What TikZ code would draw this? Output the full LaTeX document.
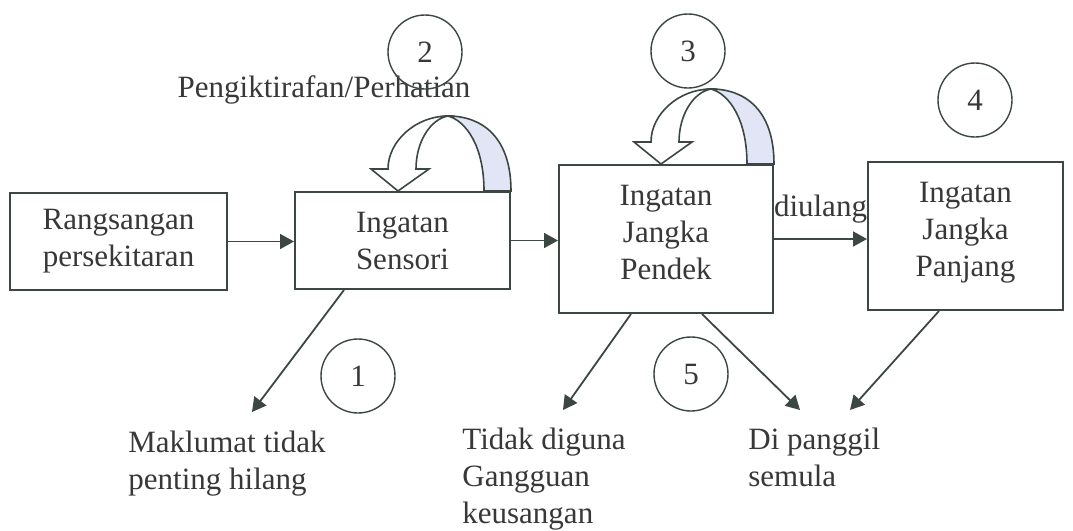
\documentclass[tikz,border=0pt]{standalone}
\usepackage{fontspec}
\setmainfont{Liberation Serif}
\usetikzlibrary{arrows.meta,calc}
\definecolor{mmline}{HTML}{3C4742}
\definecolor{mmtext}{HTML}{383838}
\definecolor{mmshade}{HTML}{E2E5F5}

\begin{document}
\begin{tikzpicture}[x=0.5pt, y=-0.5pt,
  every node/.style={text=mmtext, font=\fontsize{15.5}{18.5}\selectfont},
  box/.style={rectangle, draw=mmline, line width=1pt, fill=white,
              align=center, inner sep=0pt},
  num/.style={circle, draw=mmline, line width=0.7pt, minimum size=37pt, inner sep=0pt},
  note/.style={align=left, anchor=north west, inner sep=0pt},
  arr/.style={-{Triangle[length=7pt,width=7.5pt]}, line width=0.9pt, draw=mmline},
  loopface/.style={draw=mmline, line width=0.8pt, fill=white},
  loopback/.style={draw=mmline, line width=0.8pt, fill=mmshade}
]
  \useasboundingbox[fill=white] (0,0) rectangle (1073,531);

  \node[box, minimum width=108.5pt, minimum height=48.5pt] (env) at (118.5,241.5) {Rangsangan\\persekitaran};
  \node[box, minimum width=107.5pt, minimum height=48.5pt] (sen) at (402.5,240.5) {Ingatan\\Sensori};
  \node[box, minimum width=107pt,   minimum height=74pt, text depth=7pt] (stm) at (666,239)   {Ingatan\\Jangka\\Pendek};
  \node[box, minimum width=97.5pt,  minimum height=74pt, text depth=7pt] (ltm) at (965.5,236) {Ingatan\\Jangka\\Panjang};

  \node[anchor=base] (attn) at (324,97) {Pengiktirafan/Perhatian};
  \node[num] (n1) at (358,376) {1};
  \node[num] (n2) at (425,52)  {2};
  \node[num] (n3) at (688,51)  {3};
  \node[num] (n4) at (975,100) {4};
  \node[num] (n5) at (691,374) {5};

  \node[note] (lost)   at (128,431) {Maklumat tidak\\penting hilang};
  \node[note] (unused) at (462,428) {Tidak diguna\\Gangguan\\keusangan};
  \node[note] (recall) at (748,428) {Di panggil\\semula};

  \draw[arr] (env.east) -- (env.east -| sen.west);
  \draw[arr] (sen.east) -- (sen.east -| stm.west);
  \draw[arr] (stm.east) -- (stm.east -| ltm.west) node[midway, above=4pt] {diulang};

  \coordinate (lostTip)   at (252,412);
  \coordinate (unusedTip) at (563,410);
  \coordinate (recallTip) at (800,410);
  \coordinate (ltmTip)    at (850,410);
  \draw[arr] ($(sen.south west)+(50,0)$)  -- (lostTip);
  \draw[arr] ($(stm.south west)+(73,0)$)  -- (unusedTip);
  \draw[arr] ($(stm.south west)+(144,0)$) -- (recallTip);
  \draw[arr] ($(ltm.south west)+(72,0)$)  -- (ltmTip);

  \foreach \b in {sen,stm}{
    \begin{scope}[shift={(\b.north east)}]
      \draw[loopback] (0,0) .. controls (0,-55) and (-30,-75) .. (-63,-75)
          .. controls (-45,-70) and (-27,-45) .. (-27,0) -- cycle;
      \draw[loopface] (-63,-75) .. controls (-95,-75) and (-123,-50) .. (-123,-22)
          -- (-140,-22) -- (-113,0) -- (-82,-22) -- (-95,-22)
          .. controls (-95,-50) and (-80,-72) .. (-63,-75) -- cycle;
    \end{scope}
  }
\end{tikzpicture}
\end{document}
